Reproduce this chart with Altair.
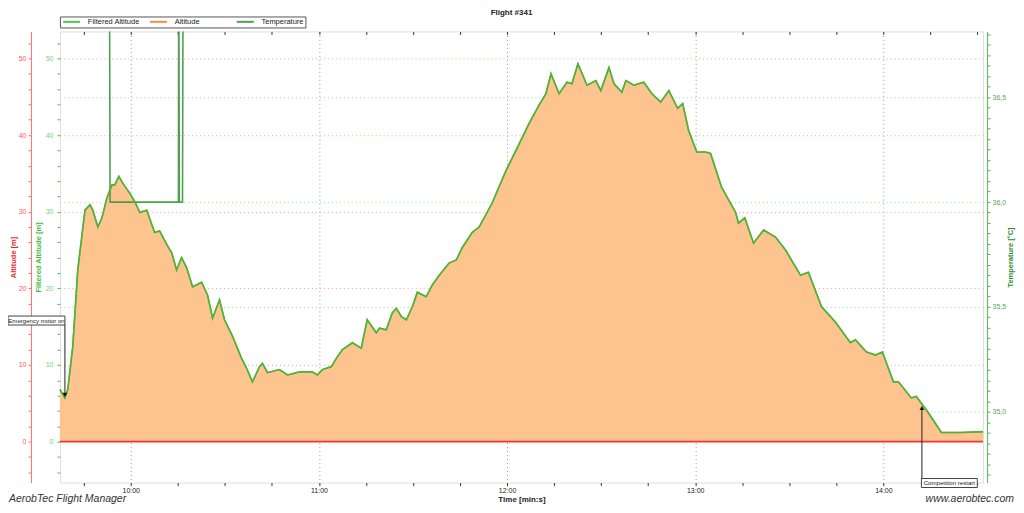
import altair as alt
import pandas as pd

TITLE = "Flight #341"
FOOTER_LEFT = "AerobTec Flight Manager"
FOOTER_RIGHT = "www.aerobtec.com"

# flight time in seconds (axis shows min:s)
time_s = [577.4, 579.0, 579.9, 581.5, 583.1, 585.4, 587.0, 587.9, 589.5, 590.8,
          592.4, 594.0, 594.9, 596.2, 597.5, 599.7, 601.3, 602.9, 605.1, 607.6,
          609.2, 611.5, 613.1, 614.6, 616.2, 617.8, 619.7, 622.6, 624.5, 626.1,
          628.3, 629.9, 632.5, 635.3, 636.9, 638.8, 641.1, 642.0, 643.6, 647.4,
          650.0, 653.8, 657.9, 659.5, 661.1, 664.0, 665.6, 667.5, 670.7, 673.5,
          675.4, 678.3, 679.3, 681.5, 683.4, 684.7, 686.3, 687.9, 689.8, 691.4,
          694.2, 696.1, 698.4, 701.5, 703.8, 705.7, 708.9, 711.1, 715.2, 719.7,
          723.2, 727.0, 730.2, 732.4, 734.0, 736.6, 739.1, 740.7, 742.6, 745.5,
          748.3, 749.9, 752.5, 754.1, 756.6, 757.9, 760.4, 763.6, 766.2, 769.0,
          771.6, 774.4, 776.0, 777.9, 780.5, 783.3, 784.9, 788.4, 792.9, 793.8,
          795.8, 798.6, 801.8, 805.6, 808.8, 813.6, 816.1, 820.3, 824.7, 829.5,
          831.1, 834.6, 837.5, 839.7, 843.2, 844.8, 848.9, 850.5, 854.3, 858.5,
          864.8, 871.8]
altitude_m = [6.8, 5.7, 6.8, 12.4, 22.4, 30.2, 30.9, 30.2, 28.0, 29.2,
              31.8, 33.5, 33.5, 34.6, 33.7, 32.4, 31.3, 29.9, 30.2, 27.3,
              27.5, 25.7, 24.6, 22.4, 24.0, 22.7, 20.2, 20.8, 19.1, 16.1,
              18.5, 15.9, 13.7, 10.9, 9.6, 7.8, 9.8, 10.2, 9.0, 9.4,
              8.7, 9.1, 9.1, 8.7, 9.4, 9.8, 10.9, 12.0, 12.9, 12.2,
              15.9, 14.2, 14.8, 14.6, 16.8, 17.4, 16.3, 15.9, 17.6, 19.5,
              18.9, 20.4, 21.7, 23.3, 23.7, 25.3, 27.3, 28.0, 31.1, 35.4,
              38.3, 41.5, 43.9, 45.4, 48.0, 45.4, 46.9, 46.7, 49.3, 46.5,
              47.1, 45.8, 48.8, 46.7, 45.6, 47.1, 46.5, 46.9, 45.4, 44.3,
              45.8, 43.5, 44.1, 40.6, 37.8, 37.8, 37.6, 33.2, 29.9, 28.5,
              29.2, 25.9, 27.6, 26.7, 25.0, 21.7, 22.1, 17.6, 15.6, 12.9,
              13.3, 11.7, 11.3, 11.7, 7.8, 7.8, 5.7, 5.9, 3.8, 1.2,
              1.2, 1.3]
filtered_altitude_m = list(altitude_m)

temp_time_s = [577.4, 593.2, 593.4, 615.2, 615.3, 615.5, 616.5, 616.7, 871.8]
temperature_c = [37.2, 37.2, 36.0, 36.0, 37.2, 36.0, 36.0, 37.2, 37.2]

SERIES = ["Filtered Altitude", "Altitude", "Temperature"]
SERIES_COLORS = ["#3CBB3C", "#FF7F30", "#3E953E"]

event_labels = ["Emergency motor on", "Competition restart"]
event_time_s = [579.0, 852.3]
event_tip_m = [6.1, 4.4]
event_line_end_m = [15.3, -4.9]
event_box_m = [15.8, -5.4]
event_shapes = ["triangle-down", "triangle-up"]

x_ticks = list(range(585, 871, 15))
alt_ticks = list(range(-4, 53, 2))
temp_ticks = [v / 100 for v in range(3470, 3681, 5)]
zero_level = [0.0]

X_DOMAIN = [577.4, 871.8]
ALT_DOMAIN = [-5.34, 53.52]
TEMP_DOMAIN = [34.662, 36.814]

FONT = "Liberation Sans"


def xs():
    return alt.Scale(domain=X_DOMAIN, nice=False, zero=False)


def ys():
    return alt.Scale(domain=ALT_DOMAIN, nice=False, zero=False)


alt_df = pd.DataFrame({"t": time_s, "alt": altitude_m})
alt_df["series"] = SERIES[1]
falt_df = pd.DataFrame({"t": time_s, "falt": filtered_altitude_m})
falt_df["series"] = SERIES[0]
temp_df = pd.DataFrame({"t": temp_time_s, "temp": temperature_c})
temp_df["series"] = SERIES[2]
zero_df = pd.DataFrame({"t0": [X_DOMAIN[0]], "t1": [X_DOMAIN[1]], "y": zero_level})

MAJOR_MIN = "datum.value % 60 === 0"
MAJOR_ALT = "datum.value % 10 === 0 && datum.value >= 0"
MAJOR_TEMP = "abs(datum.value * 2 - round(datum.value * 2)) < 0.001"

bottom_axis = alt.Axis(
    orient="bottom", values=x_ticks,
    labelExpr=f"{MAJOR_MIN} ? (floor(datum.value / 60) + ':00') : ''",
    grid=True, gridColor="#9A9A9A", gridDash=[1, 3],
    gridOpacity={"condition": {"test": MAJOR_MIN, "value": 1}, "value": 0},
    domain=False, tickSize=3, tickColor="#333", labelFontSize=7,
    labelColor="#222", labelPadding=1, labelFont=FONT,
    title="Time [min:s]", titleFontSize=8, titleFontWeight="bold",
    titleColor="#222", titlePadding=2, titleFont=FONT,
)
top_axis = alt.Axis(
    orient="top", values=x_ticks, labels=False, domain=False, grid=False,
    tickSize=3, offset=-3, tickColor="#333", title=None,
)
red_axis = alt.Axis(
    orient="left", offset=29, values=alt_ticks,
    labelExpr=f"{MAJOR_ALT} ? datum.label : ''",
    grid=True, gridColor="#FF9A9A", gridDash=[1, 3],
    gridOpacity={"condition": {"test": "datum.value % 10 === 0 && datum.value > 0", "value": 1}, "value": 0},
    domainColor="#FF7070", tickColor="#FF7070", tickSize=3,
    labelColor="#FF5A5A", labelFontSize=7, labelPadding=2, labelFont=FONT,
    title="Altitude [m]", titleColor="#E82828", titleFontSize=7.5,
    titleFontWeight="bold", titlePadding=1, titleFont=FONT,
)
green_axis = alt.Axis(
    orient="left", offset=0, values=alt_ticks,
    labelExpr=f"{MAJOR_ALT} ? datum.label : ''",
    grid=False, domain=False, tickColor="#55BB55", tickSize=3,
    labelColor="#7ACF7A", labelFontSize=7, labelPadding=4, labelFont=FONT,
    title="Filtered Altitude [m]", titleColor="#3DBB3D", titleFontSize=7.5,
    titleFontWeight="bold", titlePadding=3, titleFont=FONT,
)
temp_axis = alt.Axis(
    orient="right", offset=4, values=temp_ticks,
    labelExpr=f"{MAJOR_TEMP} ? replace(format(datum.value, '.1f'), '.', ',') : ''",
    grid=True, gridColor="#A0D8A0", gridDash=[1, 3],
    gridOpacity={"condition": {"test": MAJOR_TEMP, "value": 1}, "value": 0},
    domainColor="#55BB55", tickColor="#55BB55", tickSize=3,
    labelColor="#4FA84F", labelFontSize=7, labelPadding=2, labelFont=FONT,
    title="Temperature [°C]", titleColor="#2E8B2E", titleFontSize=7.5,
    titleFontWeight="bold", titlePadding=1, titleAngle=270, titleBaseline="top",
    titleFont=FONT,
)

legend = alt.Legend(
    orient="none", legendX=0, legendY=-15, direction="horizontal", title=None,
    symbolType="M-1,0H7.5", symbolSize=16, symbolStrokeWidth=2,
    labelFontSize=7.5, labelColor="#222", labelFont=FONT, labelOffset=19,
    columnPadding=5, gridAlign="all", padding=1.5, rowPadding=0,
    strokeColor="#555", fillColor="white", labelLimit=200,
)
stroke_scale = alt.Scale(domain=SERIES, range=SERIES_COLORS)

area = alt.Chart(alt_df).mark_area(fill="#FDC48F", opacity=1).encode(
    x=alt.X("t:Q", scale=xs(), axis=bottom_axis),
    y=alt.Y("alt:Q", scale=ys(), axis=red_axis),
)

zero_rule = alt.Chart(zero_df).mark_rule(stroke="#FF3030", strokeWidth=1.6, opacity=1).encode(
    x=alt.X("t0:Q", scale=xs(), axis=None),
    x2="t1:Q",
    y=alt.Y("y:Q", scale=ys(), axis=None),
)

temp_line = alt.Chart(temp_df).mark_line(strokeWidth=1.6, clip=True, opacity=0.9).encode(
    x=alt.X("t:Q", scale=xs(), axis=None),
    y=alt.Y("temp:Q", scale=alt.Scale(domain=TEMP_DOMAIN, nice=False, zero=False), axis=temp_axis),
    stroke=alt.Stroke("series:N", scale=stroke_scale, legend=legend),
)

alt_line = alt.Chart(alt_df).mark_line(strokeWidth=1.5).encode(
    x=alt.X("t:Q", scale=xs(), axis=None),
    y=alt.Y("alt:Q", scale=ys(), axis=None),
    stroke=alt.Stroke("series:N", scale=stroke_scale, legend=legend),
)

falt_line = alt.Chart(falt_df).mark_line(strokeWidth=1.6).encode(
    x=alt.X("t:Q", scale=xs(), axis=top_axis),
    y=alt.Y("falt:Q", scale=ys(), axis=green_axis),
    stroke=alt.Stroke("series:N", scale=stroke_scale, legend=legend),
)

layers = [area, temp_line, alt_line, falt_line, zero_rule]

box_shift = [-28.5, 27.5]
box_width = [57, 56]
for i in range(len(event_labels)):
    ev = pd.DataFrame({
        "t": [event_time_s[i]], "tip": [event_tip_m[i]], "end": [event_line_end_m[i]],
        "box": [event_box_m[i]], "label": [event_labels[i]],
    })
    base = alt.Chart(ev)
    layers.append(base.mark_rule(color="#222", strokeWidth=1).encode(
        x=alt.X("t:Q", scale=xs(), axis=None),
        y=alt.Y("end:Q", scale=ys(), axis=None), y2="tip:Q"))
    layers.append(base.mark_point(shape=event_shapes[i], filled=True, size=22,
                                  color="#111", opacity=1).encode(
        x=alt.X("t:Q", scale=xs(), axis=None),
        y=alt.Y("tip:Q", scale=ys(), axis=None)))
    layers.append(base.mark_rect(width=box_width[i], height=9, xOffset=box_shift[i],
                                 fill="white", stroke="#444", strokeWidth=1).encode(
        x=alt.X("t:Q", scale=xs(), axis=None),
        y=alt.Y("box:Q", scale=ys(), axis=None)))
    layers.append(base.mark_text(fontSize=6.1, color="#222", font=FONT, dx=box_shift[i],
                                 baseline="middle", align="center").encode(
        x=alt.X("t:Q", scale=xs(), axis=None),
        y=alt.Y("box:Q", scale=ys(), axis=None),
        text="label:N"))

foot = pd.DataFrame({"left": [FOOTER_LEFT], "right": [FOOTER_RIGHT]})
layers.append(alt.Chart(foot).mark_text(align="left", baseline="alphabetic", fontStyle="italic",
                                        fontSize=10.5, color="#333", font=FONT).encode(
    x=alt.value(-51), y=alt.value(471), text="left:N"))
layers.append(alt.Chart(foot).mark_text(align="right", baseline="alphabetic", fontStyle="italic",
                                        fontSize=10.5, color="#333", font=FONT).encode(
    x=alt.value(956), y=alt.value(471), text="right:N"))

chart = alt.layer(*layers).resolve_scale(y="independent").resolve_axis(x="independent").properties(
    width=925, height=452,
    autosize=alt.AutoSizeParams(type="none"),
    padding={"left": 52, "top": 23, "right": 33, "bottom": 22},
    title=alt.TitleParams(TITLE, fontSize=8, fontWeight="bold", font=FONT, color="#222",
                          anchor="middle", offset=13, dx=-10, dy=14),
).configure_view(stroke="#666", strokeWidth=1.5).configure(font=FONT)

chart.save("out.html", embed_options={"renderer": "svg", "actions": False})
